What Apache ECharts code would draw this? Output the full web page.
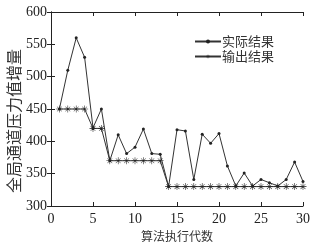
<!DOCTYPE html>
<html><head><meta charset="utf-8">
<script src="https://cdn.jsdelivr.net/npm/echarts@6/dist/echarts.min.js"></script>
<style>html,body{margin:0;padding:0;background:#fff}#c{width:320px;height:246px}</style>
</head><body><div id="c"></div>
<script>
const generations = [1,2,3,4,5,6,7,8,9,10,11,12,13,14,15,16,17,18,19,20,21,22,23,24,25,26,27,28,29,30];
const actual = [450,510,560,530,421,450,370,410,381,391,419,381,380,330,418,416,341,411,397,412,362,331,351,331,341,336,331,341,368,338];
const output = [450,450,450,450,420,420,370,370,370,370,370,370,370,330,330,330,330,330,330,330,330,330,330,330,330,330,330,330,330,330];
const xTicks = [0,5,10,15,20,25,30];
const yTicks = [300,350,400,450,500,550,600];
const seriesNames = ['实际结果','输出结果'];
const xName = '算法执行代数';
const yName = '全局通道压力值增量';

const star = 'path://M4.6,0h0.8v4.6h4.6v0.8h-4.6v4.6h-0.8v-4.6h-4.6v-0.8h4.6z M1.3,1.8l0.5,-0.5l3.2,3.2l3.2,-3.2l0.5,0.5l-3.2,3.2l3.2,3.2l-0.5,0.5l-3.2,-3.2l-3.2,3.2l-0.5,-0.5l3.2,-3.2z';
const serif = '"Liberation Serif","DejaVu Serif",serif';
const cjk = '"Noto Sans CJK SC",sans-serif';
const axisCommon = {
  axisLine:{show:true,lineStyle:{color:'#222',width:1}},
  axisTick:{show:true,inside:true,length:4,lineStyle:{color:'#222'}},
  splitLine:{show:false}
};
const chart = echarts.init(document.getElementById('c'));
chart.setOption({
  animation:false,
  backgroundColor:'#fff',
  grid:{left:51,right:17,top:12,bottom:40,containLabel:false,outerBoundsMode:'none'},
  legend:{
    right:41, top:30, orient:'vertical', itemGap:2, itemWidth:26, itemHeight:5,
    textStyle:{fontFamily:cjk,fontSize:13,color:'#333',padding:[0,0,0,-4]},
    data:seriesNames
  },
  graphic:[{
    type:'text', x:14, y:121, rotation:Math.PI/2,
    style:{text:yName, x:0, y:0, align:'center', verticalAlign:'middle',
      font:'16px "Noto Sans CJK SC",sans-serif', fill:'#333'}
  }],
  xAxis:[
    Object.assign({type:'value',min:xTicks[0],max:xTicks[xTicks.length-1],interval:5,
      name:xName,nameLocation:'middle',nameGap:23,
      nameTextStyle:{fontFamily:cjk,fontSize:12,color:'#333'},
      axisLabel:{fontFamily:serif,fontSize:14,color:'#222',margin:6}},axisCommon),
    Object.assign({type:'value',position:'top',min:xTicks[0],max:xTicks[xTicks.length-1],interval:5,
      axisLabel:{show:false}},axisCommon)
  ],
  yAxis:[
    Object.assign({type:'value',min:yTicks[0],max:yTicks[yTicks.length-1],interval:50,
      axisLabel:{fontFamily:serif,fontSize:14,color:'#222',margin:4}},axisCommon),
    Object.assign({type:'value',position:'right',min:yTicks[0],max:yTicks[yTicks.length-1],interval:50,
      axisLabel:{show:false}},axisCommon)
  ],
  series:[
    {name:seriesNames[0],type:'line',data:generations.map((g,i)=>[g,actual[i]]),
      symbol:'circle',symbolSize:3,lineStyle:{color:'#333',width:1},itemStyle:{color:'#222'}},
    {name:seriesNames[1],type:'line',data:generations.map((g,i)=>[g,output[i]]),
      symbol:star,symbolSize:7,lineStyle:{color:'#333',width:1},itemStyle:{color:'#222'}}
  ]
});
</script></body></html>
